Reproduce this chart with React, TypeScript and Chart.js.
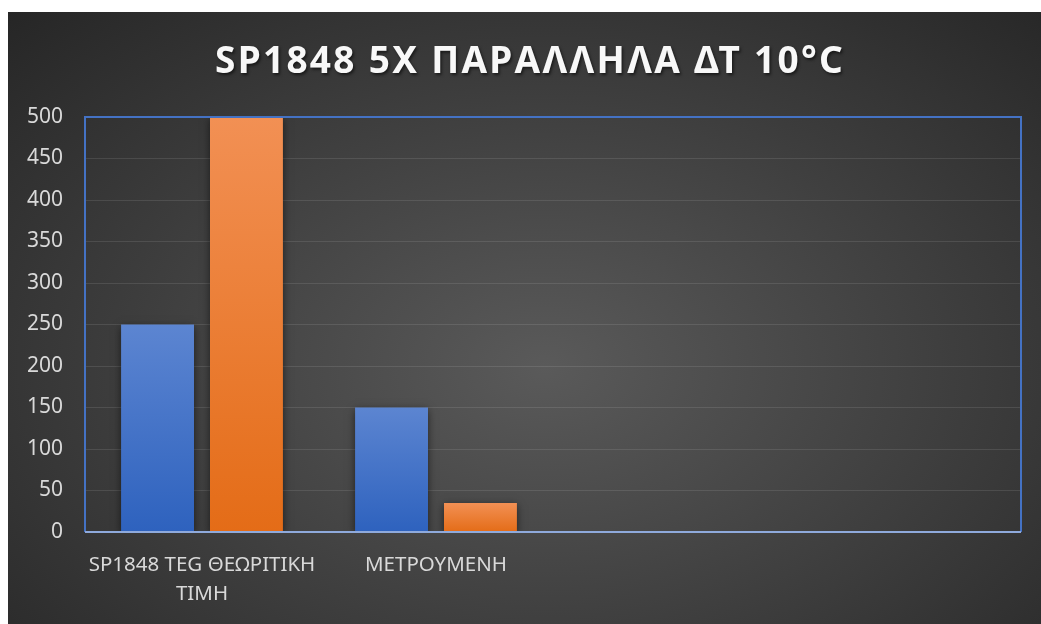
import React, { useEffect, useRef } from "react";
import { Chart, registerables } from "chart.js";

Chart.register(...registerables);

const TITLE = "SP1848 5X ΠΑΡΑΛΛΗΛΑ ΔΤ 10°C";
const categories: (string | string[])[] = [["SP1848 TEG ΘΕΩΡΙΤΙΚΗ", "ΤΙΜΗ"], "ΜΕΤΡΟΥΜΕΝΗ", "", ""];
const series1: (number | null)[] = [250, 150, null, null];
const series2: (number | null)[] = [500, 35, null, null];
const yMin = 0;
const yMax = 500;
const yStep = 50;

const FONT = "'Noto Sans', sans-serif";

function barGradient(top: string, bottom: string) {
  return (ctx: any) => {
    const chart = ctx.chart;
    if (!chart.chartArea || ctx.type !== "data" || ctx.raw == null) return bottom;
    const y = chart.scales.y;
    const yTop = y.getPixelForValue(ctx.raw);
    const yBase = y.getPixelForValue(0);
    if (!isFinite(yTop) || !isFinite(yBase) || yTop === yBase) return bottom;
    const g = chart.ctx.createLinearGradient(0, yTop, 0, yBase);
    g.addColorStop(0, top);
    g.addColorStop(1, bottom);
    return g;
  };
}

const framePlugin = {
  id: "frame",
  beforeDatasetsDraw(chart: any) {
    const c = chart.ctx;
    c.save();
    c.shadowColor = "rgba(0,0,0,0.55)";
    c.shadowBlur = 8;
    c.shadowOffsetX = 0;
    c.shadowOffsetY = 2;
  },
  afterDatasetsDraw(chart: any) {
    const c = chart.ctx;
    c.restore();
    const a = chart.chartArea;
    c.save();
    c.lineWidth = 2;
    c.strokeStyle = "#4472c4";
    c.beginPath();
    c.moveTo(a.left, a.bottom);
    c.lineTo(a.left, a.top);
    c.lineTo(a.right, a.top);
    c.lineTo(a.right, a.bottom);
    c.stroke();
    c.strokeStyle = "#8faadc";
    c.beginPath();
    c.moveTo(a.left, a.bottom);
    c.lineTo(a.right, a.bottom);
    c.stroke();
    c.restore();
  },
  afterDraw(chart: any) {
    const c = chart.ctx;
    c.save();
    c.font = `bold 37px ${FONT}`;
    (c as any).letterSpacing = "2.3px";
    c.textAlign = "center";
    c.textBaseline = "middle";
    c.shadowColor = "rgba(0,0,0,0.55)";
    c.shadowBlur = 3;
    c.shadowOffsetX = 1.5;
    c.shadowOffsetY = 1.5;
    c.fillStyle = "#f8f8f8";
    c.fillText(TITLE, 522, 50.5);
    c.restore();
  },
};

export default function App() {
  const ref = useRef<HTMLCanvasElement | null>(null);
  useEffect(() => {
    if (!ref.current) return;
    const chart = new Chart(ref.current, {
      type: "bar",
      data: {
        labels: categories,
        datasets: [
          {
            label: "Series 1",
            data: series1,
            backgroundColor: barGradient("#5c85d1", "#2e62be"),
            borderWidth: 0,
            categoryPercentage: 0.76,
            barPercentage: 0.82,
          },
          {
            label: "Series 2",
            data: series2,
            backgroundColor: barGradient("#f29054", "#e46c17"),
            borderWidth: 0,
            categoryPercentage: 0.76,
            barPercentage: 0.82,
          },
        ],
      },
      options: {
        animation: false,
        responsive: true,
        maintainAspectRatio: false,
        layout: { padding: { top: 105, right: 20, bottom: 0, left: 0 } },
        plugins: {
          legend: { display: false },
          title: { display: false },
          tooltip: { enabled: false },
        },
        scales: {
          x: {
            grid: { display: false, drawTicks: false },
            border: { display: false },
            ticks: {
              color: "#d9d9d9",
              font: { family: FONT, size: 20.5, lineHeight: 1.45 },
              padding: 18,
              maxRotation: 0,
              autoSkip: false,
            },
            afterFit(scale: any) {
              scale.height = 92;
            },
          },
          y: {
            min: yMin,
            max: yMax,
            grid: { color: "rgba(255,255,255,0.1)", lineWidth: 1, drawTicks: false },
            border: { display: false },
            ticks: {
              stepSize: yStep,
              color: "#d9d9d9",
              font: { family: FONT, size: 21 },
              padding: 22,
            },
            afterFit(scale: any) {
              scale.width = 77;
            },
          },
        },
      },
      plugins: [framePlugin],
    });
    return () => chart.destroy();
  }, []);

  return (
    <div
      style={{
        position: "absolute",
        left: 8,
        top: 12,
        width: 1033,
        height: 612,
        background:
          "radial-gradient(ellipse farthest-corner at 52% 58%, #5a5a5a 0%, #262626 100%)",
      }}
    >
      <canvas ref={ref} />
    </div>
  );
}
